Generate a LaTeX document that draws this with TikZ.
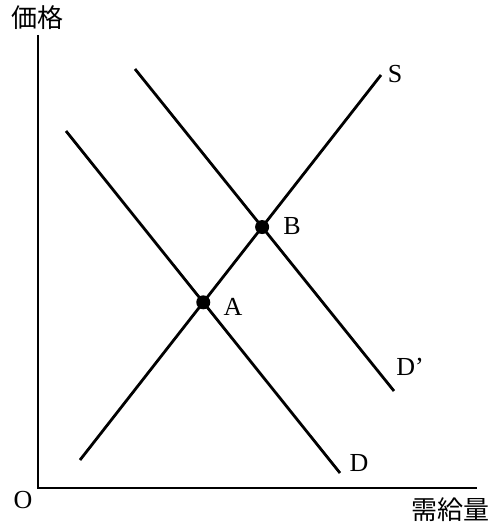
\documentclass[tikz,border=0pt]{standalone}
\usepackage{fontspec}
\setmainfont{Liberation Serif}
\newfontfamily\jpfont{Noto Sans CJK JP}
\usetikzlibrary{intersections}
\begin{document}
\begin{tikzpicture}[x=1pt,y=-1pt,
  curve/.style={line width=2.8pt},
  axis/.style={line width=2.4pt},
  lbl/.style={font=\fontsize{26}{26}\selectfont, inner sep=0pt},
  jlbl/.style={font=\jpfont\fontsize{26}{26}\selectfont, inner sep=0pt},
  dotmark/.style={circle, fill=black, inner sep=0pt, minimum size=14pt}]
\useasboundingbox (0,0) rectangle (495,527);
% axes
\coordinate (O) at (38,488);
\coordinate (ytop) at (38,35);
\coordinate (xend) at (477,488);
\draw[axis] (ytop) -- (O) -- (xend);
\node[jlbl] (price) at (38,18) {価格};
\node[jlbl] (qty) at (450,510) {需給量};
\node[lbl] (olbl) at (23,500) {O};
% curves
\coordinate (S1) at (80,460);
\coordinate (S2) at (381,75);
\coordinate (D1) at (66,131);
\coordinate (D2) at (340,473);
\coordinate (Dp1) at (135,69);
\coordinate (Dp2) at (394,391);
\draw[curve, name path=S] (S1) -- (S2);
\draw[curve, name path=D] (D1) -- (D2);
\draw[curve, name path=Dp] (Dp1) -- (Dp2);
\node[lbl] (slbl) at (395,74) {S};
\node[lbl] (dlbl) at (359,463) {D};
\node[lbl] (dplbl) at (410,367) {D’};
\path[name intersections={of=S and D, by=A}];
\path[name intersections={of=S and Dp, by=B}];
\node[dotmark] (Adot) at (A) {};
\node[dotmark] (Bdot) at (B) {};
\node[lbl] (alabel) at (233,307) {A};
\node[lbl] (blabel) at (292,226) {B};
\end{tikzpicture}
\end{document}
